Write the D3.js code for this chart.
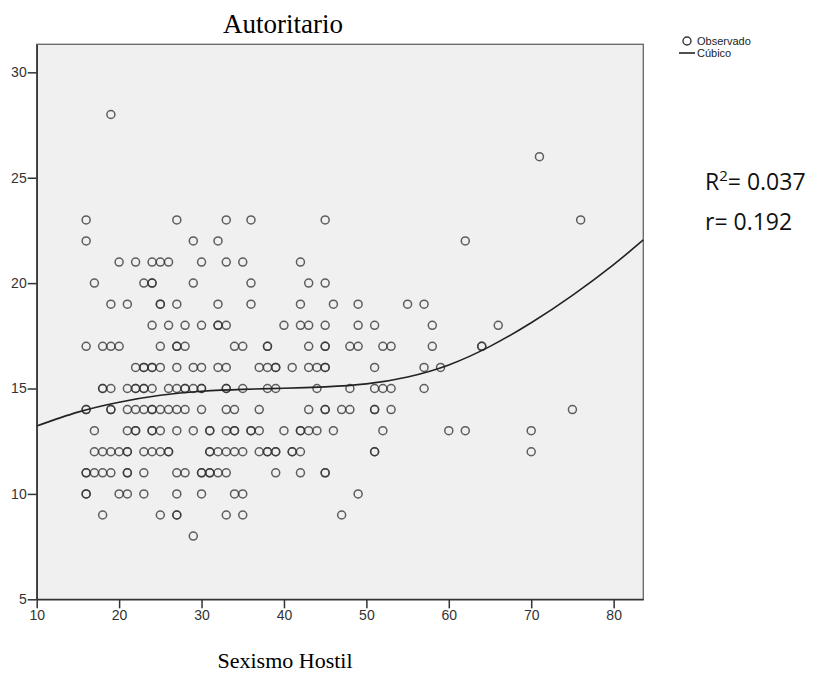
<!DOCTYPE html>
<html>
<head>
<meta charset="utf-8">
<style>
body { margin: 0; background: #fff; }
svg { display: block; }
.tick text { font-family: "Liberation Sans", Arial, sans-serif; font-size: 14px; fill: #333; }
</style>
</head>
<body>
<svg id="chart" width="826" height="690"></svg>
<script src="https://cdn.jsdelivr.net/npm/d3@7"></script>
<script>
// observed points, grouped by the Autoritario value (one row per level)
var rowY = [28, 26, 23, 22, 21, 20, 19, 18, 17, 16, 15, 14, 13, 12, 11, 10, 9, 8];
var rowX = [
  [19],
  [71],
  [16, 27, 33, 36, 45, 76],
  [16, 29, 32, 62],
  [20, 22, 24, 25, 26, 30, 33, 35, 42],
  [17, 23, 24, 24, 29, 36, 43, 45],
  [19, 21, 25, 25, 27, 32, 36, 42, 46, 49, 55, 57],
  [24, 26, 28, 30, 32, 32, 33, 40, 42, 43, 45, 49, 51, 58, 66],
  [16, 18, 19, 20, 25, 27, 27, 28, 34, 35, 38, 38, 43, 45, 45, 48, 49, 52, 53, 58, 64, 64],
  [22, 23, 23, 24, 24, 25, 27, 29, 30, 32, 33, 37, 38, 39, 39, 41, 43, 44, 45, 45, 51, 57, 59],
  [18, 18, 19, 21, 22, 22, 23, 23, 24, 26, 27, 28, 28, 29, 30, 30, 33, 33, 35, 38, 39, 44, 48, 51, 52, 53, 57],
  [16, 16, 19, 19, 21, 22, 23, 24, 24, 25, 26, 27, 28, 30, 33, 34, 37, 43, 45, 45, 47, 48, 51, 51, 53, 75],
  [17, 21, 22, 22, 24, 24, 25, 27, 29, 31, 31, 33, 34, 34, 36, 36, 37, 40, 42, 42, 43, 44, 46, 52, 60, 62, 70],
  [17, 18, 19, 20, 21, 21, 23, 24, 25, 26, 26, 31, 31, 32, 33, 34, 35, 37, 38, 38, 39, 39, 41, 41, 42, 51, 51, 70],
  [16, 16, 17, 18, 19, 21, 21, 23, 27, 28, 30, 30, 31, 31, 32, 33, 39, 42, 45, 45],
  [16, 16, 20, 21, 23, 27, 30, 34, 35, 49],
  [18, 25, 27, 27, 33, 35, 47],
  [29]
];

// cubic fit
var curveX = [10, 15, 20, 25, 30, 35, 40, 45, 50, 55, 60, 65, 70, 75, 80, 83.6];
var curveY = [13.22, 13.88, 14.35, 14.68, 14.87, 14.96, 15.01, 15.08, 15.22, 15.55, 16.12, 17.0, 18.12, 19.42, 20.88, 22.05];

var xTicks = [10, 20, 30, 40, 50, 60, 70, 80];
var yTicks = [5, 10, 15, 20, 25, 30];

var svg = d3.select("#chart");

var plotLeft = 36.7, plotRight = 643.3, plotTop = 44.3, plotBottom = 599.3;

var x = d3.scaleLinear().domain([10, 83.6]).range([plotLeft, plotRight]);
var y = d3.scaleLinear().domain([5, 31.33]).range([plotBottom, plotTop]);

svg.append("rect")
    .attr("x", plotLeft).attr("y", plotTop)
    .attr("width", plotRight - plotLeft).attr("height", plotBottom - plotTop)
    .attr("fill", "#f0f0f0")
    .attr("stroke", "#666")
    .attr("stroke-width", 1.3);

var points = [];
rowY.forEach(function(v, i) {
  rowX[i].forEach(function(h) { points.push({x: h, y: v}); });
});

svg.append("g")
  .selectAll("circle")
  .data(points)
  .enter().append("circle")
    .attr("cx", function(d) { return x(d.x); })
    .attr("cy", function(d) { return y(d.y); })
    .attr("r", 4)
    .attr("fill", "none")
    .attr("stroke", "#333")
    .attr("stroke-opacity", 0.78)
    .attr("stroke-width", 1.5);

var line = d3.line()
    .x(function(d) { return x(d[0]); })
    .y(function(d) { return y(d[1]); })
    .curve(d3.curveNatural);

svg.append("path")
    .datum(curveX.map(function(v, i) { return [v, curveY[i]]; }))
    .attr("d", line)
    .attr("fill", "none")
    .attr("stroke", "#222")
    .attr("stroke-width", 1.6);

var xAxis = svg.append("g")
    .attr("transform", "translate(0," + plotBottom + ")")
    .call(d3.axisBottom(x).tickValues(xTicks).tickSize(9).tickPadding(2).tickSizeOuter(0));
var yAxis = svg.append("g")
    .attr("transform", "translate(" + plotLeft + ",0)")
    .call(d3.axisLeft(y).tickValues(yTicks).tickSize(9).tickPadding(1).tickSizeOuter(0));

[xAxis, yAxis].forEach(function(a) {
  a.select(".domain").attr("stroke", "#333").attr("stroke-width", 1.5);
  a.selectAll(".tick line").attr("stroke", "#333").attr("stroke-width", 1.5);
});

// titles
svg.append("text")
    .attr("x", 283).attr("y", 33)
    .attr("text-anchor", "middle")
    .style("font-family", "'Liberation Serif', 'Times New Roman', serif")
    .style("font-size", "27px")
    .text("Autoritario");

svg.append("text")
    .attr("x", 285).attr("y", 668)
    .attr("text-anchor", "middle")
    .style("font-family", "'Liberation Serif', 'Times New Roman', serif")
    .style("font-size", "22px")
    .text("Sexismo Hostil");

// legend
var legend = svg.append("g").attr("transform", "translate(687,41)");
legend.append("circle")
    .attr("r", 4).attr("fill", "none")
    .attr("stroke", "#333").attr("stroke-width", 1.4);
legend.append("line")
    .attr("x1", -8).attr("x2", 8).attr("y1", 12).attr("y2", 12)
    .attr("stroke", "#222").attr("stroke-width", 1.6);
legend.selectAll("text")
    .data(["Observado", "Cúbico"])
    .enter().append("text")
    .attr("x", 10)
    .attr("y", function(d, i) { return i * 12; })
    .attr("dy", "0.35em")
    .style("font-family", "'Liberation Sans', Arial, sans-serif")
    .style("font-size", "11px")
    .style("fill", "#222")
    .text(function(d) { return d; });

// fit statistics
var stats = svg.append("text")
    .attr("x", 705).attr("y", 190)
    .style("font-family", "'Open Sans', sans-serif")
    .style("font-size", "23px")
    .style("fill", "#111");
stats.append("tspan").text("R");
stats.append("tspan").attr("dy", -9).style("font-size", "15px").text("2");
stats.append("tspan").attr("dy", 9).text("= 0.037");

svg.append("text")
    .attr("x", 705).attr("y", 230)
    .style("font-family", "'Open Sans', sans-serif")
    .style("font-size", "23px")
    .style("fill", "#111")
    .text("r= 0.192");
</script>
</body>
</html>
